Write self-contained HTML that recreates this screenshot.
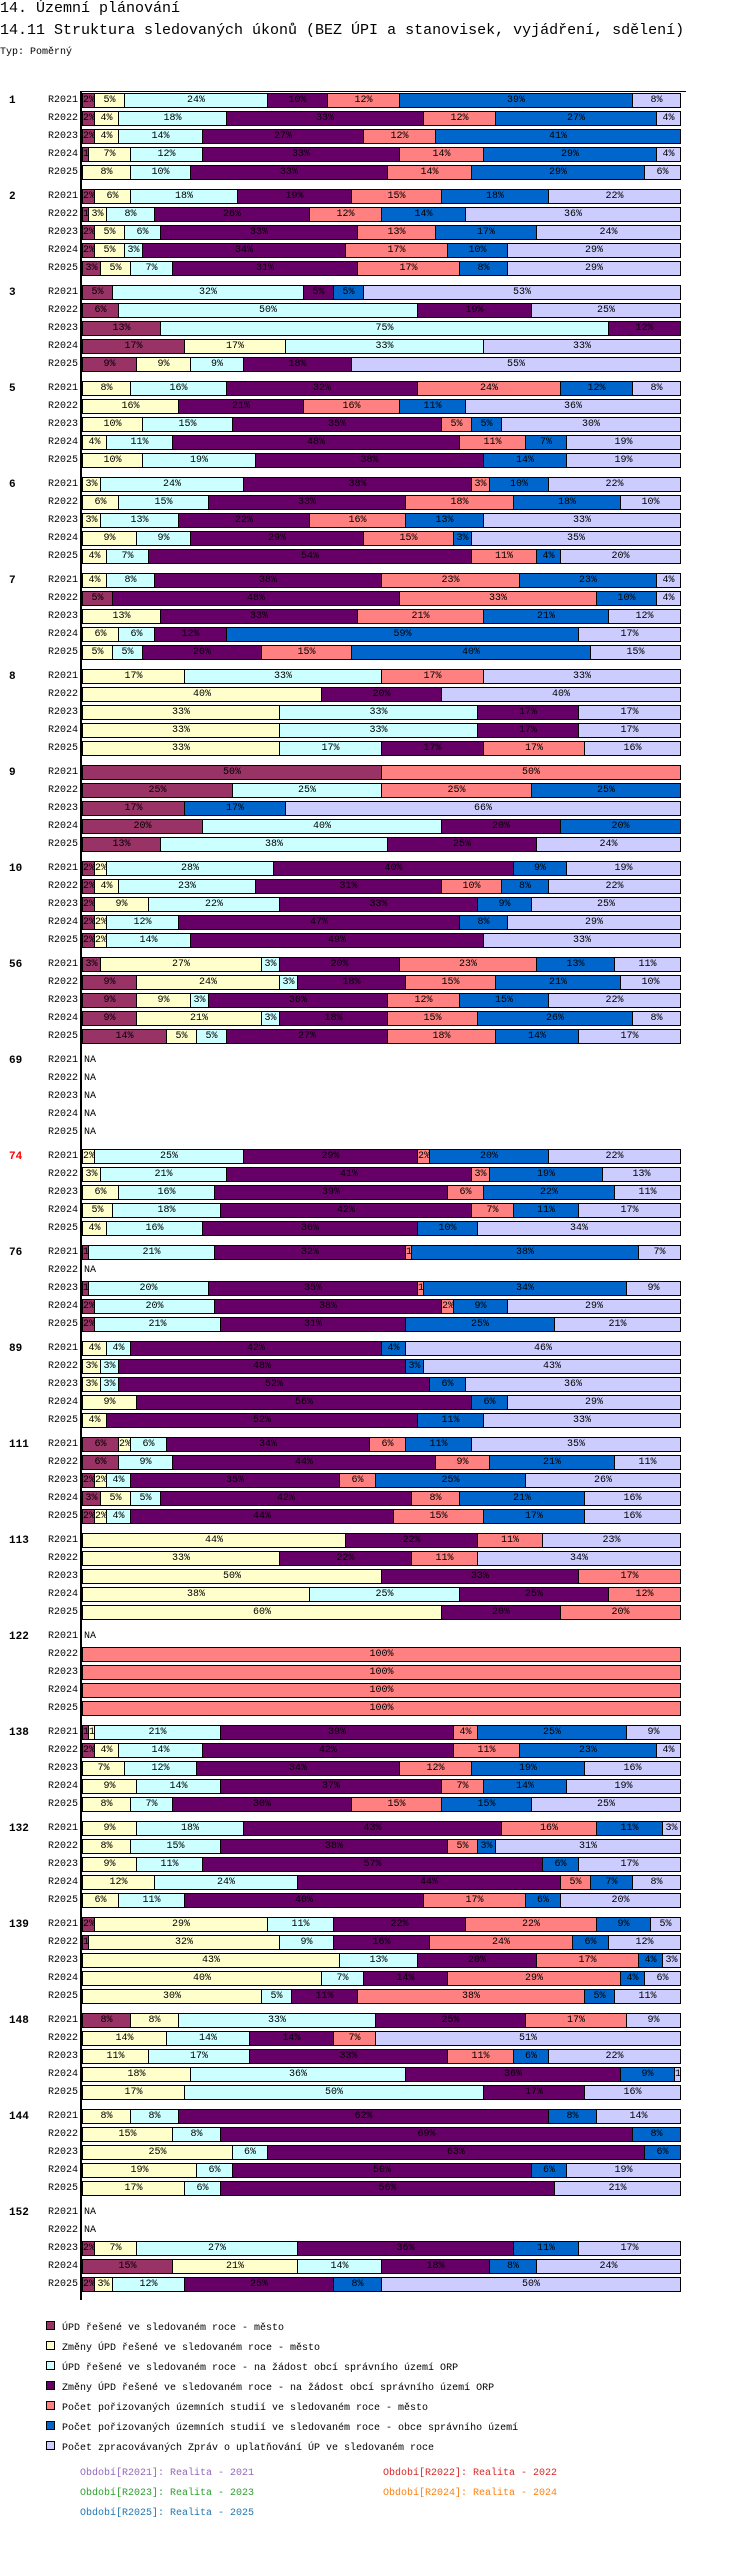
<!DOCTYPE html>
<html><head><meta charset="utf-8">
<style>
body{margin:0;background:#fff;width:750px;height:2570px;position:relative;overflow:hidden;font-family:"Liberation Mono",monospace;color:#000}
.t{position:absolute;white-space:nowrap}
.seg{position:absolute;box-sizing:border-box;border:1px solid #000;height:15px;overflow:hidden;text-align:center;font-size:10px;line-height:13px;white-space:nowrap}
.rl{position:absolute;width:70px;left:8px;text-align:right;font-size:10px;line-height:18px}
.gl{position:absolute;left:9px;font-size:11px;font-weight:bold;line-height:18px}
.na{position:absolute;left:84px;font-size:10px;line-height:18px}
.lg{position:absolute;left:46px;font-size:10px;line-height:12px;white-space:nowrap}
.lg i{display:inline-block;width:7px;height:7px;border:1px solid #000;margin-right:7px;vertical-align:0}
.pd{position:absolute;font-size:10px;white-space:nowrap}
</style></head><body>
<div class="t" style="left:0;top:0;font-size:15px;line-height:18px">14. Územní plánování</div>
<div class="t" style="left:0;top:22px;font-size:15px;line-height:18px">14.11 Struktura sledovaných úkonů (BEZ ÚPI a stanovisek, vyjádření, sdělení)</div>
<div class="t" style="left:0;top:46px;font-size:10px;line-height:13px">Typ: Poměrný</div>
<div id="chart"></div>
<div style="position:absolute;left:80px;top:91px;width:606px;height:1px;background:#000"></div>
<div style="position:absolute;left:80px;top:91px;width:2px;height:2209px;background:#000"></div>
<div id="legend"></div>
<div class="pd" style="left:80px;top:2468px;color:#9467bd">Období[R2021]: Realita - 2021</div>
<div class="pd" style="left:383px;top:2468px;color:#d62728">Období[R2022]: Realita - 2022</div>
<div class="pd" style="left:80px;top:2488px;color:#2ca02c">Období[R2023]: Realita - 2023</div>
<div class="pd" style="left:383px;top:2488px;color:#ff7f0e">Období[R2024]: Realita - 2024</div>
<div class="pd" style="left:80px;top:2508px;color:#1f77b4">Období[R2025]: Realita - 2025</div>
<script>
const groupLabels=["1","2","3","5","6","7","8","9","10","56","69","74","76","89","111","113","122","138","132","139","148","144","152"];
const years=["R2021","R2022","R2023","R2024","R2025"];
const seriesNames=["ÚPD řešené ve sledovaném roce - město","Změny ÚPD řešené ve sledovaném roce - město","ÚPD řešené ve sledovaném roce - na žádost obcí správního území ORP","Změny ÚPD řešené ve sledovaném roce - na žádost obcí správního území ORP","Počet pořizovaných územních studií ve sledovaném roce - město","Počet pořizovaných územních studií ve sledovaném roce - obce správního území","Počet zpracovávaných Zpráv o uplatňování ÚP ve sledovaném roce"];
const seriesColors=["#993366","#ffffcc","#ccffff","#660066","#ff8080","#0066cc","#ccccff"];
const values=[
[[2,5,24,10,12,39,8],[2,4,18,33,12,27,4],[2,4,14,27,12,41,0],[1,7,12,33,14,29,4],[0,8,10,33,14,29,6]],
[[2,6,18,19,15,18,22],[1,3,8,26,12,14,36],[2,5,6,33,13,17,24],[2,5,3,34,17,10,29],[3,5,7,31,17,8,29]],
[[5,0,32,5,0,5,53],[6,0,50,19,0,0,25],[13,0,75,12,0,0,0],[17,17,33,0,0,0,33],[9,9,9,18,0,0,55]],
[[0,8,16,32,24,12,8],[0,16,0,21,16,11,36],[0,10,15,35,5,5,30],[0,4,11,48,11,7,19],[0,10,19,38,0,14,19]],
[[0,3,24,38,3,10,22],[0,6,15,33,18,18,10],[0,3,13,22,16,13,33],[0,9,9,29,15,3,35],[0,4,7,54,11,4,20]],
[[0,4,8,38,23,23,4],[5,0,0,48,33,10,4],[0,13,0,33,21,21,12],[0,6,6,12,0,59,17],[0,5,5,20,15,40,15]],
[[0,17,33,0,17,0,33],[0,40,0,20,0,0,40],[0,33,33,17,0,0,17],[0,33,33,17,0,0,17],[0,33,17,17,17,0,16]],
[[50,0,0,0,50,0,0],[25,0,25,0,25,25,0],[17,0,0,0,0,17,66],[20,0,40,20,0,20,0],[13,0,38,25,0,0,24]],
[[2,2,28,40,0,9,19],[2,4,23,31,10,8,22],[2,9,22,33,0,9,25],[2,2,12,47,0,8,29],[2,2,14,49,0,0,33]],
[[3,27,3,20,23,13,11],[9,24,3,18,15,21,10],[9,9,3,30,12,15,22],[9,21,3,18,15,26,8],[14,5,5,27,18,14,17]],
[null,null,null,null,null],
[[0,2,25,29,2,20,22],[0,3,21,41,3,19,13],[0,6,16,39,6,22,11],[0,5,18,42,7,11,17],[0,4,16,36,0,10,34]],
[[1,0,21,32,1,38,7],null,[1,0,20,35,1,34,9],[2,0,20,38,2,9,29],[2,0,21,31,0,25,21]],
[[0,4,4,42,0,4,46],[0,3,3,48,0,3,43],[0,3,3,52,0,6,36],[0,9,0,56,0,6,29],[0,4,0,52,0,11,33]],
[[6,2,6,34,6,11,35],[6,0,9,44,9,21,11],[2,2,4,35,6,25,26],[3,5,5,42,8,21,16],[2,2,4,44,15,17,16]],
[[0,44,0,22,11,0,23],[0,33,0,22,11,0,34],[0,50,0,33,17,0,0],[0,38,25,25,12,0,0],[0,60,0,20,20,0,0]],
[null,[0,0,0,0,100,0,0],[0,0,0,0,100,0,0],[0,0,0,0,100,0,0],[0,0,0,0,100,0,0]],
[[1,1,21,39,4,25,9],[2,4,14,42,11,23,4],[0,7,12,34,12,19,16],[0,9,14,37,7,14,19],[0,8,7,30,15,15,25]],
[[0,9,18,43,16,11,3],[0,8,15,38,5,3,31],[0,9,11,57,0,6,17],[0,12,24,44,5,7,8],[0,6,11,40,17,6,20]],
[[2,29,11,22,22,9,5],[1,32,9,16,24,6,12],[0,43,13,20,17,4,3],[0,40,7,14,29,4,6],[0,30,5,11,38,5,11]],
[[8,8,33,25,17,0,9],[0,14,14,14,7,0,51],[0,11,17,33,11,6,22],[0,18,36,36,0,9,1],[0,17,50,17,0,0,16]],
[[0,8,8,62,0,8,14],[0,15,8,69,0,8,0],[0,25,6,63,0,6,0],[0,19,6,50,0,6,19],[0,17,6,56,0,0,21]],
[null,null,[2,7,27,36,0,11,17],[15,21,14,18,0,8,24],[2,3,12,25,0,8,50]]
];
const X0=82,W=598,Y0=92,GP=96,RP=18;
function xScale(v,sum){return v/sum*W;}
function rowTop(g,r){return Y0+g*GP+r*RP;}
const chart=document.getElementById('chart');
groupLabels.forEach((gl,g)=>{
  const l=document.createElement('div');
  l.className='gl';l.textContent=gl;
  l.style.top=rowTop(g,0)+'px';
  if(gl==="74")l.style.color='#ff0000';
  
  
  chart.appendChild(l);
  years.forEach((y,r)=>{
    const rl=document.createElement('div');
    rl.className='rl';rl.textContent=y;rl.style.top=rowTop(g,r)+'px';
    
    
    chart.appendChild(rl);
    const row=values[g][r];
    if(!row){
      const na=document.createElement('div');
      na.className='na';na.textContent='NA';na.style.top=rowTop(g,r)+'px';
      
      
      chart.appendChild(na);return;
    }
    const sum=row.reduce((a,b)=>a+b,0);
    let cum=0;
    row.forEach((v,s)=>{
      if(v<=0)return;
      const seg=document.createElement('div');
      seg.className='seg';
      const x1=X0+xScale(cum,sum),x2=X0+xScale(cum+v,sum);
      seg.style.left=Math.round(x1)+'px';
      seg.style.width=(Math.round(x2)-Math.round(x1)+1)+'px';
      seg.style.top=(rowTop(g,r)+1)+'px';
      seg.style.background=seriesColors[s];
      seg.textContent=v+'%';
      
      
      chart.appendChild(seg);
      cum+=v;
    });
  });
});
const legend=document.getElementById('legend');
seriesNames.forEach((n,i)=>{
  const d=document.createElement('div');
  d.className='lg';d.style.top=(2321+i*20)+'px';
  d.innerHTML='<i style="background:'+seriesColors[i]+'"></i>'+n;
  
  
  legend.appendChild(d);
});
</script>
</body></html>
